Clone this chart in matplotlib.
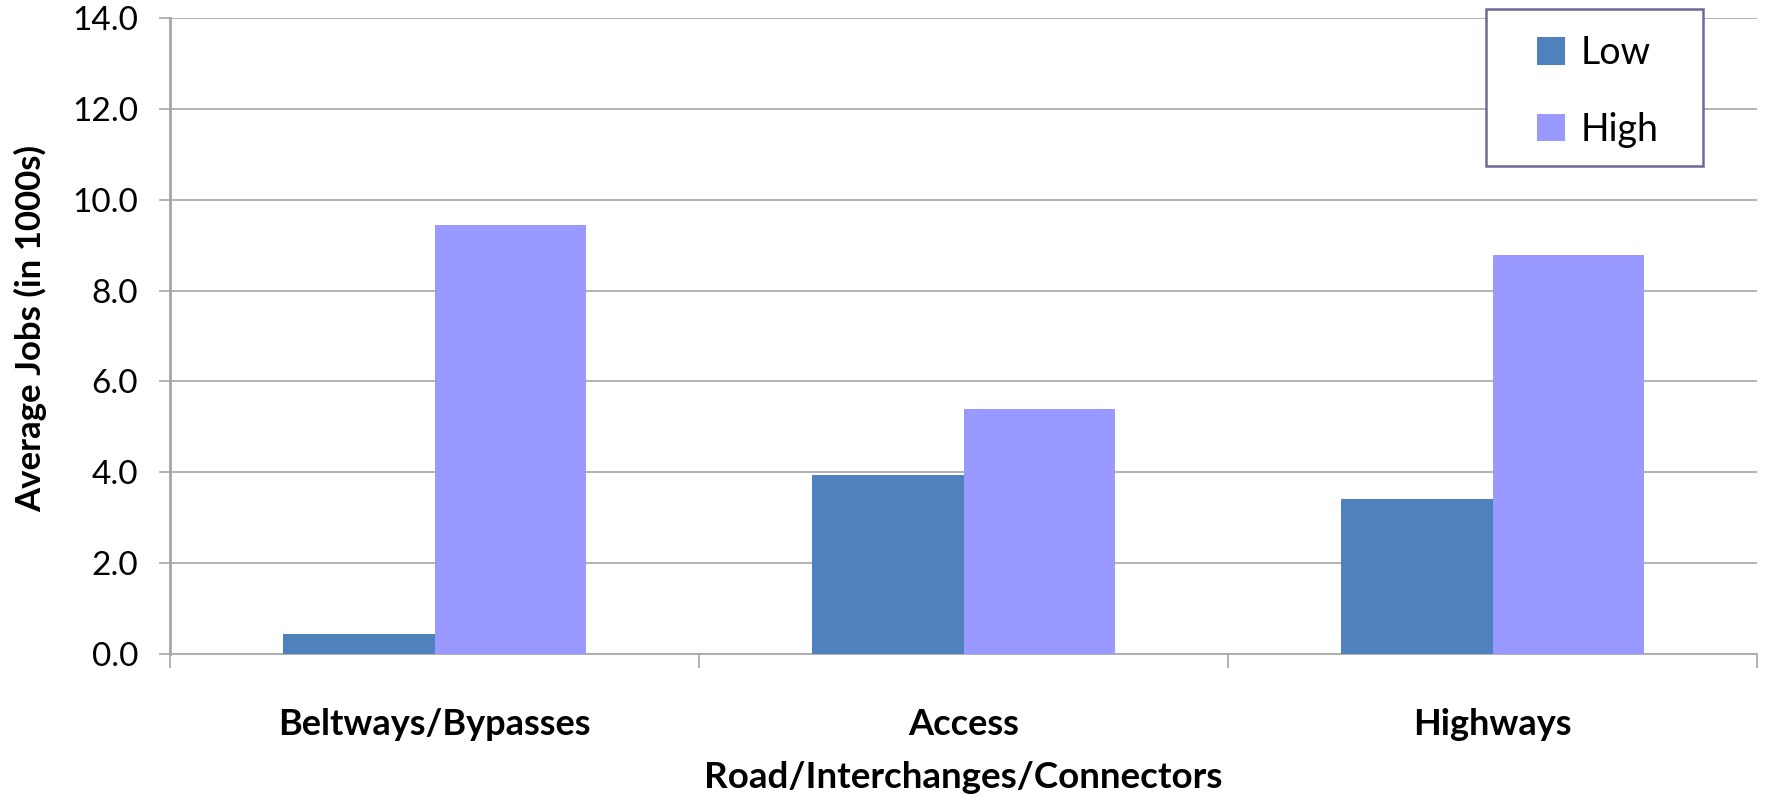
import matplotlib
matplotlib.use("Agg")
import matplotlib.pyplot as plt
from matplotlib.patches import Rectangle
import numpy as np

plt.rcParams["font.family"] = ["Lato", "DejaVu Sans"]

categories = ["Beltways/Bypasses", "Access", "Highways"]
low_jobs = [0.44, 3.95, 3.41]
high_jobs = [9.45, 5.40, 8.78]
yticks = [0, 2, 4, 6, 8, 10, 12, 14]

W, H = 1766, 796
fig = plt.figure(figsize=(W / 100, H / 100), dpi=100)
ax = fig.add_axes([170 / W, 1 - 654 / H, 1587 / W, 636 / H])

x = np.arange(len(categories))
w = 0.287
ax.bar(x - w / 2, low_jobs, w, color="#4F81BD", label="Low", zorder=3)
ax.bar(x + w / 2, high_jobs, w, color="#9999FF", label="High", zorder=3)

ax.set_xlim(-0.5, len(categories) - 0.5)
ax.set_ylim(0, 14)
ax.set_yticks(yticks)
ax.set_yticklabels(["%.1f" % v for v in yticks], fontsize=24)
ax.yaxis.grid(True, color="#A6A6A6", linewidth=1.2, zorder=0)
ax.tick_params(axis="y", length=8, width=1.2, color="#A6A6A6", pad=15)

# boundary marks as major ticks, category names as minor ticks
ax.set_xticks(np.arange(len(categories) + 1) - 0.5)
ax.set_xticklabels([])
ax.set_xticks(x, minor=True)
ax.set_xticklabels(categories, minor=True, fontsize=26, fontweight="bold")
ax.tick_params(axis="x", which="major", length=10, width=1.2, color="#A6A6A6")
ax.tick_params(axis="x", which="minor", length=0, pad=39)

for s in ["top", "right"]:
    ax.spines[s].set_visible(False)
ax.spines["left"].set_color("#A6A6A6")
ax.spines["left"].set_linewidth(2)
ax.spines["bottom"].set_color("#A6A6A6")
ax.spines["bottom"].set_linewidth(1.2)

fig.text(31 / W, 1 - 328 / H, "Average Jobs (in 1000s)", rotation=90, ha="center", va="center",
         fontsize=25, fontweight="bold")
fig.text(963 / W, 1 - 777 / H, "Road/Interchanges/Connectors", ha="center", va="center",
         fontsize=26.5, fontweight="bold")

# legend box drawn separately so the padding can match the original
box = Rectangle((1486 / W, 1 - 166 / H), 217 / W, 157 / H, transform=fig.transFigure,
                facecolor="white", edgecolor="#6B6B9A", linewidth=1.8, zorder=4, clip_on=False)
ax.add_patch(box)
handles, labels = ax.get_legend_handles_labels()
leg = fig.legend(handles, labels, loc="upper left", bbox_to_anchor=(1537 / W, 1 - 35 / H),
                 fontsize=27, frameon=False, handlelength=0.75, handleheight=0.75,
                 handletextpad=0.4, labelspacing=1.08, borderpad=0, borderaxespad=0)
leg.set_zorder(5)

fig.savefig("out.png", dpi=100)
